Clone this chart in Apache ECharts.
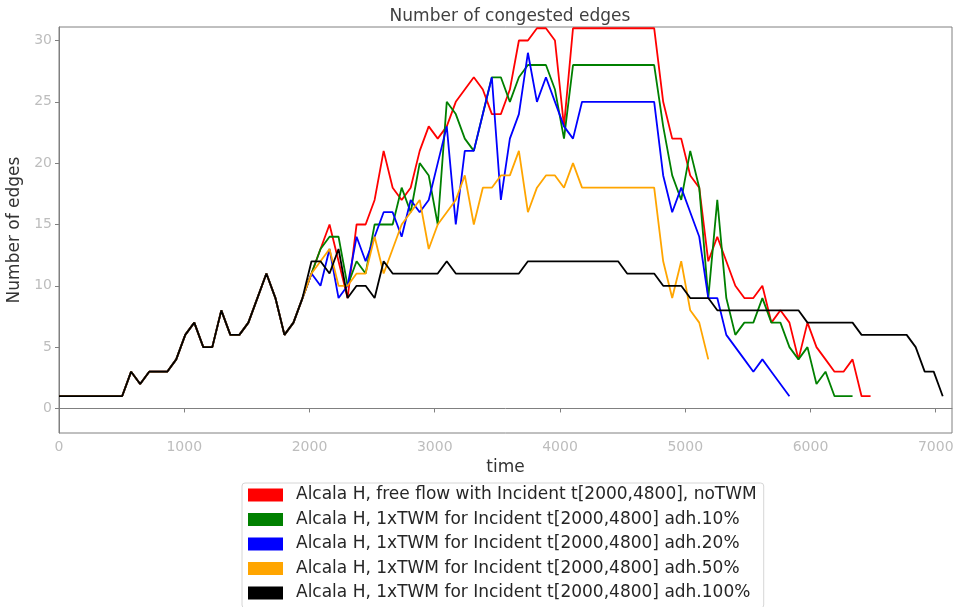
<!DOCTYPE html>
<html>
<head>
<meta charset="utf-8">
<title>Number of congested edges</title>
<script src="https://cdn.jsdelivr.net/npm/echarts@6/dist/echarts.min.js"></script>
<style>
  html, body { margin: 0; padding: 0; background: #ffffff; }
  #chart { width: 953px; height: 607px; }
</style>
</head>
<body>
<div id="chart"></div>
<script>
// Simulation time stamps (s), one sample every 72 s
const timeSteps = [
  0, 72, 144, 216, 288, 360, 432, 504, 576, 648, 720, 792, 864, 936, 1008, 1080,
  1152, 1224, 1296, 1368, 1440, 1512, 1584, 1656, 1728, 1800, 1872, 1944, 2016,
  2088, 2160, 2232, 2304, 2376, 2448, 2520, 2592, 2664, 2736, 2808, 2880, 2952,
  3024, 3096, 3168, 3240, 3312, 3384, 3456, 3528, 3600, 3672, 3744, 3816, 3888,
  3960, 4032, 4104, 4176, 4248, 4320, 4392, 4464, 4536, 4608, 4680, 4752, 4824,
  4896, 4968, 5040, 5112, 5184, 5256, 5328, 5400, 5472, 5544, 5616, 5688, 5760,
  5832, 5904, 5976, 6048, 6120, 6192, 6264, 6336, 6408, 6480, 6552, 6624, 6696,
  6768, 6840, 6912, 6984, 7056
];

const seriesNames = [
  'Alcala H, free flow with Incident t[2000,4800], noTWM',
  'Alcala H, 1xTWM for Incident t[2000,4800] adh.10%',
  'Alcala H, 1xTWM for Incident t[2000,4800] adh.20%',
  'Alcala H, 1xTWM for Incident t[2000,4800] adh.50%',
  'Alcala H, 1xTWM for Incident t[2000,4800] adh.100%'
];

// Number of congested edges per sample
const freeFlowNoTWM = [
  1, 1, 1, 1, 1, 1, 1, 1, 3, 2, 3, 3, 3, 4, 6, 7, 5, 5, 8, 6, 6, 7, 9, 11, 9, 6, 7, 9,
  11, 13, 15, 12, 9, 15, 15, 17, 21, 18, 17, 18,
  21, 23, 22, 23, 25, 26, 27, 26, 24, 24,
  26, 30, 30, 31, 31, 30, 23,
  31, 31, 31, 31, 31, 31, 31, 31, 31, 31,
  25, 22, 22, 19, 18, 12, 14, 12, 10, 9,
  9, 10, 7, 8, 7, 4, 7, 5, 4, 3,
  3, 4, 1, 1
];

const twmAdh10 = [
  1, 1, 1, 1, 1, 1, 1, 1, 3, 2, 3, 3, 3, 4, 6, 7, 5, 5, 8, 6, 6, 7, 9, 11, 9, 6, 7, 9,
  11, 13, 14, 14, 10, 12, 11, 15, 15, 15, 18, 16,
  20, 19, 15, 25, 24, 22, 21, 24, 27, 27,
  25, 27, 28, 28, 28, 26, 22,
  28, 28, 28, 28, 28, 28, 28, 28, 28, 28,
  23, 19, 17, 21, 18, 9, 17, 9, 6, 7,
  7, 9, 7, 7, 5, 4, 5, 2, 3, 1,
  1, 1
];

const twmAdh20 = [
  1, 1, 1, 1, 1, 1, 1, 1, 3, 2, 3, 3, 3, 4, 6, 7, 5, 5, 8, 6, 6, 7, 9, 11, 9, 6, 7, 9,
  11, 10, 13, 9, 10, 14, 12, 14, 16, 16, 14, 17,
  16, 17, 20, 23, 15, 21, 21, 24, 27, 17,
  22, 24, 29, 25, 27, 25, 23, 22,
  25, 25, 25, 25, 25, 25, 25, 25, 25,
  19, 16, 18, 16, 14, 9, 9, 6, 5, 4,
  3, 4, 3, 2, 1
];

const twmAdh50 = [
  1, 1, 1, 1, 1, 1, 1, 1, 3, 2, 3, 3, 3, 4, 6, 7, 5, 5, 8, 6, 6, 7, 9, 11, 9, 6, 7, 9,
  11, 12, 13, 10, 10, 11, 11, 14, 11, 13, 15, 16,
  17, 13, 15, 16, 17, 19, 15, 18, 18, 19,
  19, 21, 16, 18, 19, 19, 18, 20,
  18, 18, 18, 18, 18, 18, 18, 18, 18,
  12, 9, 12, 8, 7, 4
];

const twmAdh100 = [
  1, 1, 1, 1, 1, 1, 1, 1, 3, 2, 3, 3, 3, 4, 6, 7, 5, 5, 8, 6, 6, 7, 9, 11, 9, 6, 7, 9,
  12, 12, 11, 13, 9, 10, 10, 9, 12, 11, 11, 11,
  11, 11, 11, 12, 11, 11, 11, 11, 11, 11,
  11, 11, 12, 12, 12, 12, 12, 12, 12, 12,
  12, 12, 12, 11, 11, 11, 11, 10, 10, 10,
  9, 9, 9, 8, 8, 8, 8, 8, 8, 8,
  8, 8, 8, 7, 7, 7, 7, 7, 7, 6,
  6, 6, 6, 6, 6, 5, 3, 3, 1
];

const seriesValues = [freeFlowNoTWM, twmAdh10, twmAdh20, twmAdh50, twmAdh100];
const seriesColors = ['#ff0000', '#008000', '#0000ff', '#ffa500', '#000000'];

const xTicks = [0, 1000, 2000, 3000, 4000, 5000, 6000, 7000];
const yTicks = [0, 5, 10, 15, 20, 25, 30];

const FONT = 'DejaVu Sans';
const tickColor = '#bdbdbd';
const frameColor = '#808080';

const chart = echarts.init(document.getElementById('chart'), null, { renderer: 'canvas' });

const series = seriesValues.map((vals, s) => ({
  name: seriesNames[s],
  type: 'line',
  data: vals.map((v, i) => [timeSteps[i], v]),
  showSymbol: false,
  symbol: 'none',
  clip: true,
  color: seriesColors[s],
  itemStyle: { color: seriesColors[s] },
  lineStyle: { color: seriesColors[s], width: 1.8 },
  emphasis: { disabled: true },
  z: 2 + s
}));

chart.setOption({
  animation: false,
  backgroundColor: '#ffffff',
  title: {
    text: 'Number of congested edges',
    left: 505,
    top: 3,
    textAlign: 'center',
    textStyle: { fontFamily: FONT, fontSize: 17, fontWeight: 'normal', color: '#404040' }
  },
  grid: {
    left: 59, right: 1, top: 27, bottom: 174,
    show: true, borderColor: frameColor, borderWidth: 1, backgroundColor: 'transparent',
    containLabel: false,
    outerBoundsMode: 'none'
  },
  legend: {
    orient: 'vertical',
    left: 242,
    top: 483,
    height: 200,
    icon: 'rect',
    itemWidth: 35,
    itemHeight: 13,
    itemGap: 6.5,
    padding: [3, 7, 6, 6],
    borderColor: '#d6d6d6',
    borderWidth: 1,
    borderRadius: 3,
    backgroundColor: '#ffffff',
    selectedMode: false,
    data: seriesNames,
    textStyle: {
      fontFamily: FONT, fontSize: 17, color: '#262626',
      lineHeight: 18, padding: [0, 0, 0, 8]
    }
  },
  xAxis: {
    type: 'value',
    min: 0,
    max: 7130,
    interval: 1000,
    name: 'time',
    nameLocation: 'middle',
    nameGap: 24,
    nameTextStyle: { fontFamily: FONT, fontSize: 17, color: '#333333' },
    axisLine: { show: true, lineStyle: { color: frameColor, width: 1 } },
    axisTick: { show: true, length: 4, lineStyle: { color: frameColor }, customValues: xTicks },
    axisLabel: {
      fontFamily: FONT, fontSize: 14, color: tickColor, margin: 7, customValues: xTicks,
      formatter: (v) => String(v)
    },
    splitLine: { show: false }
  },
  yAxis: {
    type: 'value',
    min: -2,
    max: 31.1,
    name: 'Number of edges',
    nameLocation: 'middle',
    nameRotate: 90,
    nameGap: 34,
    nameTextStyle: { fontFamily: FONT, fontSize: 17, color: '#333333' },
    axisLine: { show: true, lineStyle: { color: frameColor, width: 1 } },
    axisTick: { show: true, length: 4, lineStyle: { color: frameColor }, customValues: yTicks },
    axisLabel: {
      fontFamily: FONT, fontSize: 14, color: tickColor, margin: 7, customValues: yTicks,
      formatter: (v) => String(v)
    },
    splitLine: { show: false }
  },
  series: series
});
</script>
</body>
</html>
